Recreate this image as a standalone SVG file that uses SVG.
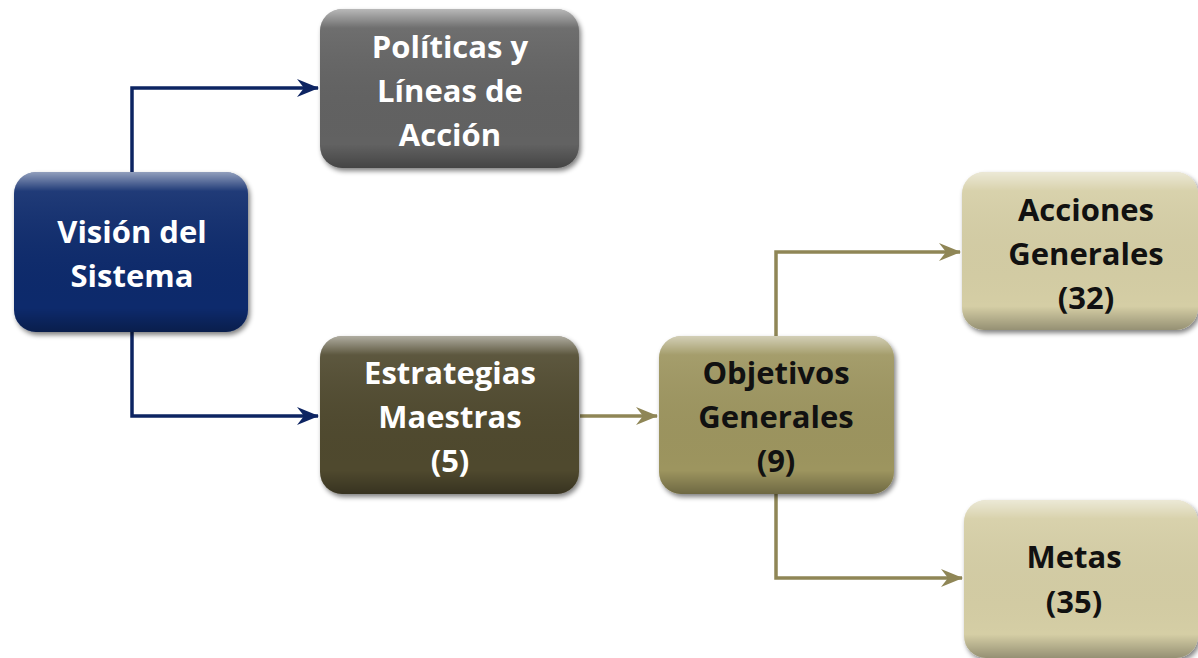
<svg xmlns="http://www.w3.org/2000/svg" width="1198" height="658" viewBox="0 0 1198 658">
<style>
.t{font-family:"Open Sans","Liberation Sans",sans-serif;font-weight:bold;font-size:31px;text-anchor:middle}
.w{fill:#ffffff}
.k{fill:#111111}
.navy{stroke:#0d2462;stroke-width:3.5;fill:none}
.olive{stroke:#8f8656;stroke-width:3.5;fill:none}
.hl{fill:url(#hl)}
</style>
<defs>
<filter id="sh" x="-10%" y="-10%" width="125%" height="130%">
<feGaussianBlur in="SourceAlpha" stdDeviation="2.5"/>
<feOffset dx="2" dy="3" result="b"/>
<feComponentTransfer><feFuncA type="linear" slope="0.5"/></feComponentTransfer>
<feMerge><feMergeNode/><feMergeNode in="SourceGraphic"/></feMerge>
</filter>
<linearGradient id="hl" x1="0" y1="0" x2="0" y2="1">
<stop offset="0" stop-color="#ffffff" stop-opacity="0.55"/>
<stop offset="0.12" stop-color="#ffffff" stop-opacity="0.08"/>
<stop offset="0.85" stop-color="#000000" stop-opacity="0"/>
<stop offset="1" stop-color="#000000" stop-opacity="0.3"/>
</linearGradient>
<marker id="an" viewBox="0 0 22 18" refX="21" refY="9" markerWidth="22" markerHeight="18" markerUnits="userSpaceOnUse" orient="auto">
<path d="M0,0 L22,9 L0,18 L7,9 Z" fill="#0d2462"/>
</marker>
<marker id="ao" viewBox="0 0 22 18" refX="21" refY="9" markerWidth="22" markerHeight="18" markerUnits="userSpaceOnUse" orient="auto">
<path d="M0,0 L22,9 L0,18 L7,9 Z" fill="#8f8656"/>
</marker>
</defs>
<rect width="1198" height="658" fill="#ffffff"/>
<g id="connectors">
<path class="navy" d="M132,172 V88 H318" marker-end="url(#an)"/>
<path class="navy" d="M132,332 V416 H318" marker-end="url(#an)"/>
<path class="olive" d="M580,416 H657" marker-end="url(#ao)"/>
<path class="olive" d="M776,336 V252 H960" marker-end="url(#ao)"/>
<path class="olive" d="M776,494 V578 H962" marker-end="url(#ao)"/>
</g>
<g id="vision">
<rect x="14" y="172" width="234" height="160" rx="22" fill="#0c2a6c" filter="url(#sh)"/>
<rect x="14" y="172" width="234" height="160" rx="22" class="hl"/>
<text class="t w" x="132" y="243">Visión del</text>
<text class="t w" x="132" y="287">Sistema</text>
</g>
<g id="politicas">
<rect x="320" y="9" width="259" height="159" rx="22" fill="#626262" filter="url(#sh)"/>
<rect x="320" y="9" width="259" height="159" rx="22" class="hl"/>
<text class="t w" x="450" y="58">Políticas y</text>
<text class="t w" x="450" y="102">Líneas de</text>
<text class="t w" x="450" y="146">Acción</text>
</g>
<g id="estrategias">
<rect x="320" y="336" width="259" height="158" rx="22" fill="#504a2f" filter="url(#sh)"/>
<rect x="320" y="336" width="259" height="158" rx="22" class="hl"/>
<text class="t w" x="450" y="384">Estrategias</text>
<text class="t w" x="450" y="428">Maestras</text>
<text class="t w" x="450" y="472">(5)</text>
</g>
<g id="objetivos">
<rect x="659" y="336" width="235" height="158" rx="22" fill="#9d955e" filter="url(#sh)"/>
<rect x="659" y="336" width="235" height="158" rx="22" class="hl"/>
<text class="t k" x="776" y="384">Objetivos</text>
<text class="t k" x="776" y="428">Generales</text>
<text class="t k" x="776" y="472">(9)</text>
</g>
<g id="acciones">
<rect x="962" y="172" width="236" height="158" rx="22" fill="#d5cea5" filter="url(#sh)"/>
<rect x="962" y="172" width="236" height="158" rx="22" class="hl"/>
<text class="t k" x="1086" y="221">Acciones</text>
<text class="t k" x="1086" y="265">Generales</text>
<text class="t k" x="1086" y="309">(32)</text>
</g>
<g id="metas">
<rect x="964" y="500" width="234" height="158" rx="22" fill="#d5cea5" filter="url(#sh)"/>
<rect x="964" y="500" width="234" height="158" rx="22" class="hl"/>
<text class="t k" x="1074" y="568">Metas</text>
<text class="t k" x="1074" y="613">(35)</text>
</g>
</svg>
